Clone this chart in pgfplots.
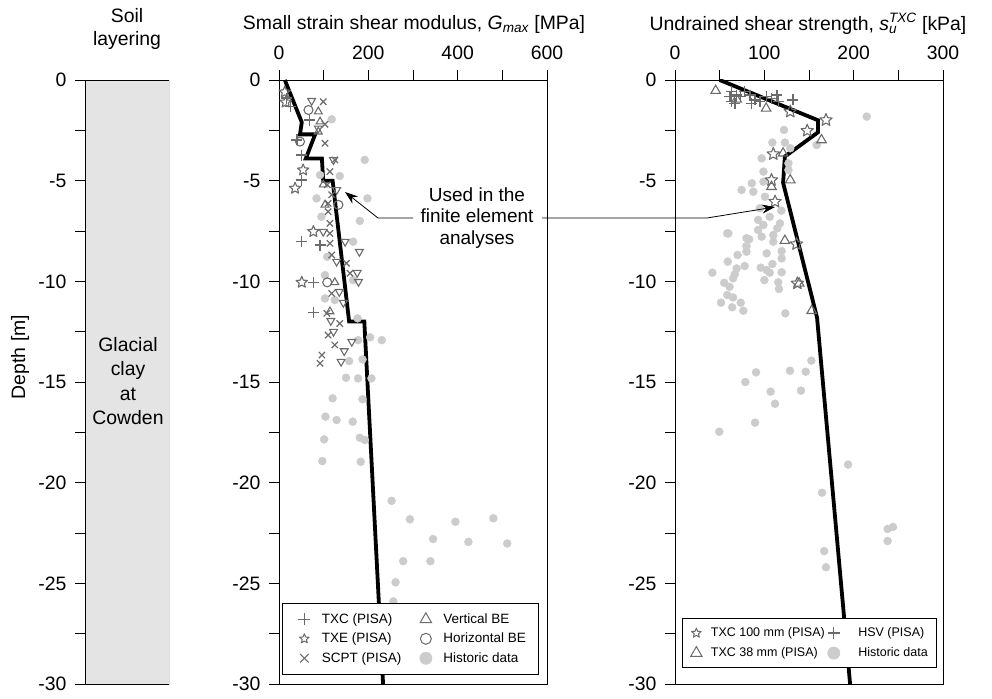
\documentclass[border=0pt]{standalone}
\usepackage{fontspec}
\setmainfont{Liberation Sans}
\usepackage{pgfplots}
\pgfplotsset{compat=1.18}
\usetikzlibrary{arrows.meta,plotmarks}

\definecolor{mk}{HTML}{6B6B6B}
\definecolor{hist}{HTML}{CCCCCC}
\definecolor{soil}{HTML}{E4E4E4}

\pgfdeclareplotmark{fstar}{%
  \pgfsetroundjoin
  \pgfpathmoveto{\pgfpointpolar{90}{\pgfplotmarksize}}%
  \pgfpathlineto{\pgfpointpolar{126}{0.45\pgfplotmarksize}}%
  \pgfpathlineto{\pgfpointpolar{162}{\pgfplotmarksize}}%
  \pgfpathlineto{\pgfpointpolar{198}{0.45\pgfplotmarksize}}%
  \pgfpathlineto{\pgfpointpolar{234}{\pgfplotmarksize}}%
  \pgfpathlineto{\pgfpointpolar{270}{0.45\pgfplotmarksize}}%
  \pgfpathlineto{\pgfpointpolar{306}{\pgfplotmarksize}}%
  \pgfpathlineto{\pgfpointpolar{342}{0.45\pgfplotmarksize}}%
  \pgfpathlineto{\pgfpointpolar{18}{\pgfplotmarksize}}%
  \pgfpathlineto{\pgfpointpolar{54}{0.45\pgfplotmarksize}}%
  \pgfpathclose
  \pgfusepathqstroke
}

\pgfplotsset{
  myaxis/.style={
    scale only axis, height=604pt, ymin=-30, ymax=0,
    ytick={0,-5,-10,-15,-20,-25,-30},
    minor ytick={-2.5,-7.5,-12.5,-17.5,-22.5,-27.5},
    tick align=outside,
    major tick length=10pt, minor tick length=10pt,
    every tick/.style={black, line width=0.8pt},
    axis line style={line width=0.8pt},
    tick label style={font=\fontsize{19.4}{23}\selectfont},
    yticklabel style={xshift=-5pt},
    xticklabel style={yshift=7pt},
    /pgf/number format/assume math mode=true,
  },
  histo/.style={only marks, mark=*, mark size=4pt, color=hist, forget plot},
  pl/.style={only marks, mark=+, mark size=5.5pt, color=mk, line width=1.3pt, forget plot},
  st/.style={only marks, mark=fstar, mark size=#1, color=mk, line width=1.1pt, forget plot},
  cr/.style={only marks, mark=x, mark size=4.5pt, color=mk, line width=1.2pt, forget plot},
  tri/.style={only marks, mark=triangle, mark size=#1, color=mk, line width=1.1pt, forget plot},
  itri/.style={only marks, mark=triangle, mark size=4.5pt, color=mk, line width=1.1pt, mark options={rotate=180}, forget plot},
  circ/.style={only marks, mark=o, mark size=4.5pt, color=mk, line width=1.1pt, forget plot},
  prof/.style={black, line width=3.8pt, line join=miter, no marks, forget plot},
  lgM/.style={legend image code/.code={\path[draw=none,fill=none] (-12pt,-9.75pt) rectangle (10pt,9.75pt); \draw[##1] plot coordinates {(0pt,0pt)};}},
  lgR/.style={legend image code/.code={\path[draw=none,fill=none] (-7pt,-10pt) rectangle (7pt,10pt); \draw[##1] plot coordinates {(0pt,0pt)};}},
  lgR2/.style={legend image code/.code={\path[draw=none,fill=none] (-7pt,-10pt) rectangle (17pt,10pt); \draw[##1] plot coordinates {(0pt,0pt)};}},
}

\begin{document}
\begin{tikzpicture}
\path[use as bounding box] (0pt,0pt) rectangle (992pt,698pt);
\coordinate (pL) at (85pt,14pt);
\coordinate (pM) at (279pt,14pt);
\coordinate (pR) at (675pt,14pt);

% ---------------- Soil layering ----------------
\begin{axis}[myaxis, at={(pL)}, anchor=south west, width=84pt,
  xmin=0, xmax=1, axis x line=none, axis y line*=left]
\addplot[fill=soil, draw=black, line width=0.8pt] coordinates {(0,0) (1,0) (1,-30) (0,-30)} -- cycle;
\end{axis}
\node[align=center, font=\fontsize{19.4}{24.5}\selectfont] at (128pt,317pt) {Glacial\\clay\\at\\Cowden};
\node[align=center, font=\fontsize{19.4}{23.5}\selectfont] at (127pt,669pt) {Soil\\layering};
\node[rotate=90, font=\fontsize{19.4}{23}\selectfont] at (20pt,341pt) {Depth [m]};

% ---------------- Gmax ----------------
\begin{axis}[myaxis, at={(pM)}, anchor=south west, width=268pt,
  xmin=0, xmax=600, xtick={0,200,400,600}, minor xtick={100,300,500},
  xtick pos=top, xticklabel pos=top, ytick pos=left,
  legend columns=2,
  legend cell align=left,
  legend style={at={(0.011,0.015)}, anchor=south west, draw=black, line width=0.8pt, fill=white,
    font=\fontsize{13.5}{16}\selectfont, inner xsep=10pt, inner ysep=6.5pt,
    /tikz/every odd column/.append style={column sep=5.5pt},
    /tikz/every even column/.append style={column sep=10.5pt}},
]
\addlegendimage{only marks, mark=+, mark size=6pt, color=mk, line width=1.2pt, lgM}
\addlegendentry{TXC (PISA)}
\addlegendimage{only marks, mark=triangle, mark size=6.5pt, color=mk, line width=1pt, lgM}
\addlegendentry{Vertical BE}
\addlegendimage{only marks, mark=fstar, mark size=5pt, color=mk, line width=1pt, lgM}
\addlegendentry{TXE (PISA)}
\addlegendimage{only marks, mark=o, mark size=5.5pt, color=mk, line width=1pt, lgM}
\addlegendentry{Horizontal BE}
\addlegendimage{only marks, mark=x, mark size=6pt, color=mk, line width=1pt, lgM}
\addlegendentry{SCPT (PISA)}
\addlegendimage{only marks, mark=*, mark size=6pt, color=hist, lgM}
\addlegendentry{Historic data}

\addplot[histo] table {
118 -1.95
192 -3.97
136 -4.77
92 -4.72
198 -5.88
84 -5.88
95 -6.79
181 -7.0
166 -8.03
108 -8.78
103 -9.69
166 -9.94
103 -10.85
125 -10.93
176 -11.84
204 -12.78
230 -12.92
177 -12.92
157 -13.96
187 -13.88
150 -14.79
177 -14.82
207 -14.82
120 -15.81
187 -15.86
104 -16.72
129 -16.89
165 -16.97
101 -17.85
181 -17.77
192 -17.88
97 -18.93
183 -18.96
252 -20.9
293 -21.82
395 -21.94
480 -21.77
345 -22.8
424 -22.94
511 -23.02
278 -23.9
339 -23.9
261 -24.95
256 -25.9
};
\addplot[itri] table {
73 -1.03
88 -2.4
122 -3.97
129 -5.46
99 -7.53
148 -8.03
180 -8.53
129 -9.02
175 -9.57
178 -10.02
135 -10.52
144 -11.06
116 -11.96
122 -12.5
163 -13.0
146 -13.46
139 -13.99
};
\addplot[tri=4.5pt] table {
88 -1.57
92 -2.07
88 -2.57
99 -5.2
103 -6.2
125 -10.05
114 -11.5
};
\addplot[circ] table {
66 -1.49
47 -3.06
133 -6.2
108 -10.05
};
\addplot[cr] table {
99 -1.08
103 -2.2
103 -3.14
125 -3.97
114 -4.55
108 -5.2
118 -5.7
110 -6.13
110 -6.54
114 -7.12
114 -7.62
114 -8.11
118 -8.69
151 -9.1
159 -9.6
118 -10.6
107 -11.59
136 -12.09
110 -12.67
125 -13.16
96 -13.66
92 -14.07
};
\addplot[st=6pt] table {
13 -0.6
15 -1.1
54 -4.47
36 -5.38
77 -7.53
51 -10.05
};
\addplot[pl] table {
17 -0.9
25 -1.33
69 -1.99
40 -2.98
51 -3.73
51 -4.97
51 -8.03
92 -8.2
77 -10.05
77 -11.54
};
\addplot[prof] table {
13 0
51 -2.1
47 -2.7
81 -2.7
60 -3.9
96 -3.9
99 -5
120 -5
157 -12
191 -12
233 -30
};
\end{axis}
\node[font=\fontsize{19.4}{23}\selectfont] at (414pt,674pt) {Small strain shear modulus, \textit{G}\textsubscript{\itshape max} [MPa]};

% ---------------- su ----------------
\begin{axis}[myaxis, at={(pR)}, anchor=south west, width=268pt,
  xmin=0, xmax=300, xtick={0,100,200,300}, minor xtick={50,150,250},
  xtick pos=top, xticklabel pos=top, ytick pos=left,
  legend columns=2,
  legend cell align=left,
  legend style={at={(0.026,0.0265)}, anchor=south west, draw=black, line width=0.8pt, fill=white,
    font=\fontsize{12.5}{15}\selectfont, inner xsep=7pt, inner ysep=4.5pt,
    /tikz/every odd column/.append style={column sep=5.5pt},
    /tikz/every even column/.append style={column sep=0pt}},
]
\addlegendimage{only marks, mark=fstar, mark size=5pt, color=mk, line width=1pt, lgR}
\addlegendentry{TXC 100 mm (PISA)}
\addlegendimage{only marks, mark=+, mark size=6pt, color=mk, line width=1.2pt, lgR2}
\addlegendentry{HSV (PISA)}
\addlegendimage{only marks, mark=triangle, mark size=6.5pt, color=mk, line width=1pt, lgR}
\addlegendentry{TXC 38 mm (PISA)}
\addlegendimage{only marks, mark=*, mark size=6pt, color=hist, lgR2}
\addlegendentry{Historic data}

\addplot[histo] table {
214.6 -1.82
122 -2.48
109 -3.11
123 -3.11
158.6 -3.23
129 -3.39
97 -3.89
127 -4.14
127 -4.47
99 -4.55
86 -5.13
99 -5.05
74.6 -5.46
87.6 -5.55
100.7 -5.8
95 -6.37
119 -6.49
106 -6.79
93 -6.95
117.5 -7.12
59.7 -7.62
80 -7.86
93 -7.45
110 -7.7
99 -7.2
114.5 -7.37
58.5 -7.62
83 -7.91
97 -7.78
110 -8.03
80 -8.25
119.4 -8.5
80 -8.53
102.6 -8.61
70 -8.69
119.4 -8.86
59 -9.02
109 -9.14
78 -9.24
69 -9.36
96 -9.32
102.6 -9.44
106 -9.57
119.4 -9.55
41.8 -9.57
67 -9.64
65 -9.85
100 -9.94
55 -10.07
115.6 -10.05
61 -10.27
116.4 -10.38
58.5 -10.68
65 -10.8
51.5 -11.06
73.5 -11.06
64 -11.29
76.5 -11.46
123.5 -11.59
152.6 -13.94
90.7 -14.52
128.7 -14.44
146.3 -14.49
78.7 -15.0
107 -15.48
141 -15.43
112 -16.08
89.6 -17.02
49.6 -17.47
193.7 -19.1
164.6 -20.5
167 -23.4
169 -24.2
238 -22.3
244 -22.2
238 -22.9
};
\addplot[tri=5.5pt] table {
45.5 -0.53
69 -0.96
102 -1.41
164 -2.98
121 -3.64
129 -4.97
108 -5.3
123 -7.98
139 -10.1
153 -11.46
};
\addplot[st=6.5pt] table {
129 -1.57
169 -1.99
148 -2.52
110 -3.68
108 -4.97
112 -6.04
136 -8.15
137 -10.1
};
\addplot[pl] table {
61.5 -0.83
63.5 -0.58
63.5 -1.08
67 -1.16
69 -0.75
73 -0.83
78 -0.58
84 -0.75
86 -1.16
89.5 -0.99
95 -1.08
102.6 -0.83
108 -0.91
114 -0.75
115.6 -1.08
132 -0.99
};
\addplot[prof] table {
50 0
160 -2
160 -2.6
123 -3.8
121 -5.1
159 -11.8
196 -30
};
\end{axis}
\node[font=\fontsize{19.4}{23}\selectfont] at (808pt,674pt) {Undrained shear strength, \textit{s}\rlap{\textsubscript{\itshape u}}\textsuperscript{\itshape TXC} [kPa]};

% ---------------- annotation ----------------
\node[align=center, font=\fontsize{19}{21.5}\selectfont] at (477pt,480pt) {Used in the\\finite element\\analyses};
\draw[line width=0.8pt, -{Stealth[length=13pt,width=9pt]}] (413pt,480pt) -- (378pt,480pt) -- (345pt,506pt);
\draw[line width=0.8pt, -{Stealth[length=13pt,width=9pt]}] (542pt,480pt) -- (707pt,480pt) -- (775pt,491pt);
\end{tikzpicture}
\end{document}
